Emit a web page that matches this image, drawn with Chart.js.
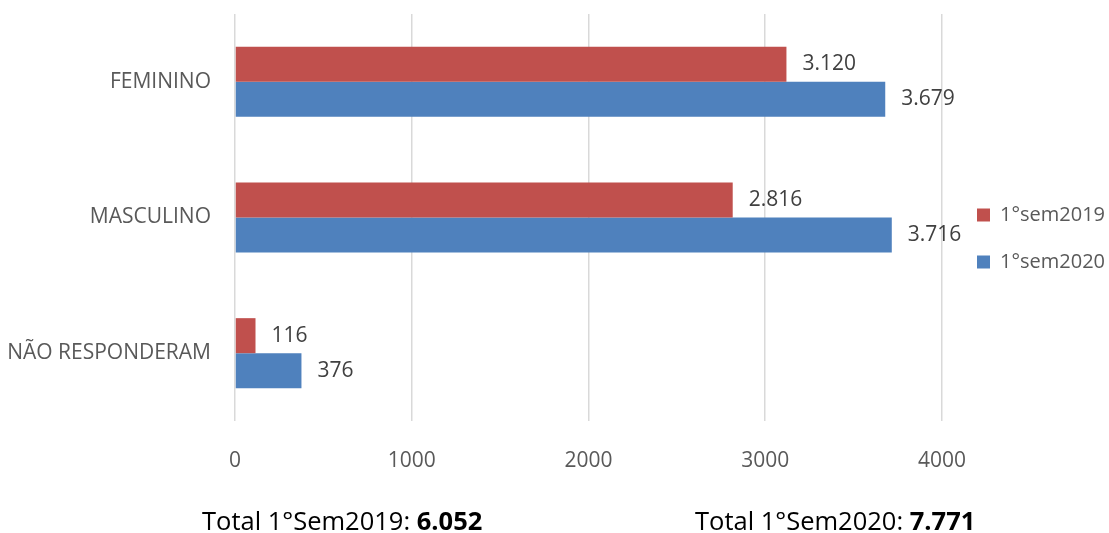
<!DOCTYPE html>
<html lang="pt-BR">
<head>
<meta charset="utf-8">
<title>Sexo - 1°sem2019 x 1°sem2020</title>
<script src="https://cdn.jsdelivr.net/npm/chart.js@4.4.1/dist/chart.umd.min.js"></script>
<style>
  html, body { margin: 0; padding: 0; background: #fff; }
  #wrap { position: relative; width: 1109px; height: 533px; overflow: hidden; }
  #grafico { position: absolute; left: 0; top: 0; }
  .total {
    position: absolute;
    top: 508px;
    font-family: 'Open Sans', sans-serif;
    font-size: 25.5px;
    line-height: 1;
    color: #000;
    white-space: nowrap;
  }
</style>
</head>
<body>
<div id="wrap">
  <canvas id="grafico" width="1109" height="533"></canvas>
  <div class="total" id="total2019" style="left:202px"></div>
  <div class="total" id="total2020" style="left:695px"></div>
</div>

<script>
// Dados
const categorias = ['FEMININO', 'MASCULINO', 'NÃO RESPONDERAM'];
const series = ['1°sem2019', '1°sem2020'];
const valores2019 = [3120, 2816, 116];
const valores2020 = [3679, 3716, 376];
const ticksX = [0, 1000, 2000, 3000, 4000];
const cores = ['#C0504D', '#4F81BD'];

// 3120 -> "3.120"
function formatoBR(n) {
    return String(n).replace(/\B(?=(\d{3})+(?!\d))/g, '.');
}

function soma(arr) {
    return arr.reduce((a, b) => a + b, 0);
}

document.getElementById('total2019').innerHTML = 'Total 1°Sem2019: <b>' + formatoBR(soma(valores2019)) + '</b>';
document.getElementById('total2020').innerHTML = 'Total 1°Sem2020: <b>' + formatoBR(soma(valores2020)) + '</b>';

Chart.defaults.font.family = "'Open Sans', sans-serif";

// Rótulos de valor à direita de cada barra
const rotulosPlugin = {
    id: 'rotulos',
    afterDatasetsDraw(chart) {
        const ctx = chart.ctx;
        ctx.save();
        ctx.font = "21px 'Open Sans', sans-serif";
        ctx.fillStyle = '#404040';
        ctx.textAlign = 'left';
        ctx.textBaseline = 'middle';
        chart.data.datasets.forEach((ds, i) => {
            chart.getDatasetMeta(i).data.forEach((bar, j) => {
                ctx.fillText(formatoBR(ds.data[j]), bar.x + 16, bar.y);
            });
        });
        ctx.restore();
    }
};

// Ajusta a caixa da legenda: um pouco à direita e centrada mais abaixo, como no original
const moverLegenda = {
    id: 'moverLegenda',
    afterLayout(chart) {
        if (chart.legend) {
            chart.legend.left += 8;
            chart.legend.right += 8;
            chart.legend.bottom -= 70;
        }
    }
};

const ctx = document.getElementById('grafico').getContext('2d');
const grafico = new Chart(ctx, {
    type: 'bar',
    data: {
        labels: categorias,
        datasets: [
            {
                label: series[0],
                data: valores2019,
                backgroundColor: cores[0],
                categoryPercentage: 0.516,
                barPercentage: 1
            },
            {
                label: series[1],
                data: valores2020,
                backgroundColor: cores[1],
                categoryPercentage: 0.516,
                barPercentage: 1
            }
        ]
    },
    options: {
        indexAxis: 'y',
        responsive: false,
        animation: false,
        layout: {
            padding: { top: 14, bottom: 0, left: 0, right: 2 }
        },
        scales: {
            x: {
                min: 0,
                max: 4000,
                afterBuildTicks: (s) => { s.ticks = ticksX.map(v => ({ value: v })); },
                afterFit: (s) => { s.height = 112; },
                grid: { color: '#D9D9D9', lineWidth: 1.5, drawTicks: false },
                border: { display: false },
                ticks: {
                    padding: 27,
                    color: '#595959',
                    font: { size: 21 },
                    callback: (v) => String(v)
                }
            },
            y: {
                afterFit: (s) => {
                    s.width = 235;
                    s.paddingTop = 0;
                    s.paddingBottom = 0;
                },
                grid: { display: false },
                border: { display: false },
                ticks: {
                    padding: 16,
                    color: '#595959',
                    font: { size: 21 }
                }
            }
        },
        plugins: {
            legend: {
                position: 'right',
                align: 'center',
                labels: {
                    boxWidth: 13,
                    boxHeight: 13,
                    padding: 27,
                    color: '#595959',
                    font: { size: 20 }
                }
            },
            tooltip: { enabled: false }
        }
    },
    plugins: [rotulosPlugin, moverLegenda]
});
</script>
</body>
</html>
